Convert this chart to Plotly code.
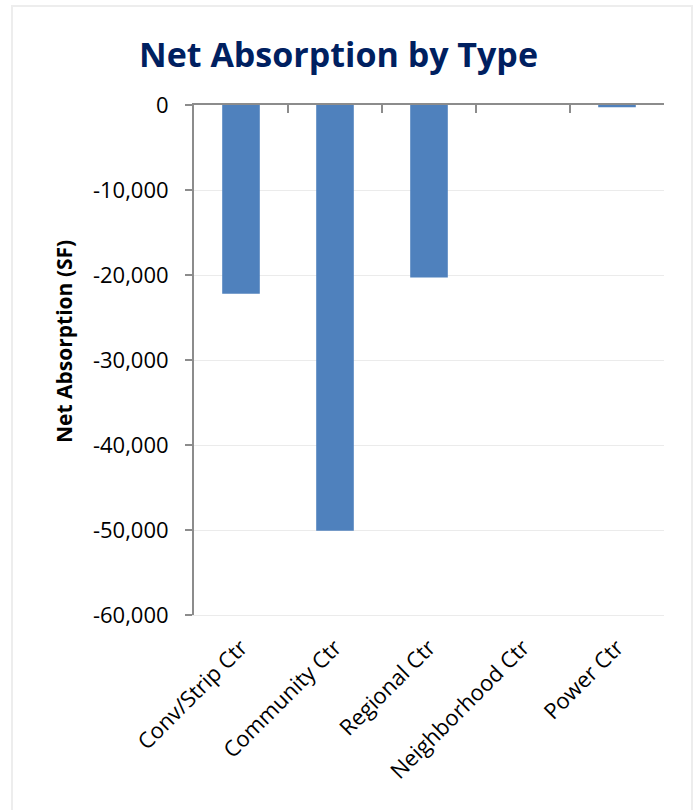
import plotly.graph_objects as go

# Net absorption (square feet) by shopping-center type
categories = ["Conv/Strip Ctr", "Community Ctr", "Regional Ctr", "Neighborhood Ctr", "Power Ctr"]
net_absorption = [-22200, -50100, -20300, 0, -250]
y_ticks = [0, -10000, -20000, -30000, -40000, -50000, -60000]
y_tick_labels = ["0", "-10,000", "-20,000", "-30,000", "-40,000", "-50,000", "-60,000"]

BAR_COLOR = "#4F81BD"
AXIS_GRAY = "#8C8C8C"
GRID_GRAY = "#EBEBEB"
FONT = "Open Sans"

# plot-area geometry in pixels
W, H = 698, 810
L, R, T, B = 194, 34, 105, 195
PW, PH = W - L - R, H - T - B


def px_x(px):
    return (px - L) / PW


def px_y(py):
    return 1 - (py - T) / PH


fig = go.Figure()

fig.add_trace(go.Bar(
    x=categories,
    y=net_absorption,
    marker=dict(color=BAR_COLOR, line=dict(width=0)),
    width=0.4,
    xaxis="x",
    yaxis="y",
    hoverinfo="x+y",
))

# carrier trace for the top category axis (ticks at the category boundaries)
fig.add_trace(go.Scatter(
    x=categories,
    y=net_absorption,
    mode="markers",
    marker=dict(opacity=0),
    xaxis="x2",
    yaxis="y",
    hoverinfo="skip",
    showlegend=False,
))

fig.update_layout(
    width=W,
    height=H,
    margin=dict(l=L, r=R, t=T, b=B),
    paper_bgcolor="white",
    plot_bgcolor="white",
    showlegend=False,
    bargap=0.6,
    title=dict(
        text="<b>Net Absorption by Type</b>",
        font=dict(family=FONT, size=34, color="#002060"),
        x=0.485,
        xanchor="center",
        y=0.932,
        yanchor="middle",
    ),
    xaxis=dict(
        type="category",
        categoryorder="array",
        categoryarray=categories,
        range=[-0.5, 4.5],
        tickangle=-45,
        showline=True,
        linecolor=GRID_GRAY,
        linewidth=1,
        ticks="",
        ticklabelstandoff=10,
        showgrid=False,
        zeroline=False,
        tickfont=dict(family=FONT, size=22, color="black"),
    ),
    xaxis2=dict(
        type="category",
        categoryorder="array",
        categoryarray=categories,
        range=[-0.5, 4.5],
        overlaying="x",
        side="top",
        showline=True,
        linecolor=AXIS_GRAY,
        linewidth=2,
        ticks="inside",
        tickson="boundaries",
        ticklen=8,
        tickwidth=2,
        tickcolor=AXIS_GRAY,
        showticklabels=False,
        showgrid=False,
        zeroline=False,
    ),
    yaxis=dict(
        range=[-60000, 0],
        tickvals=y_ticks,
        ticktext=y_tick_labels,
        ticks="outside",
        ticklen=7,
        tickwidth=2,
        tickcolor=AXIS_GRAY,
        ticklabelstandoff=12,
        showline=True,
        linecolor=AXIS_GRAY,
        linewidth=2,
        showgrid=True,
        gridcolor=GRID_GRAY,
        gridwidth=1,
        zeroline=False,
        tickfont=dict(family=FONT, size=22, color="black"),
    ),
    annotations=[
        dict(
            text="<b>Net Absorption (SF)</b>",
            textangle=-90,
            xref="paper", yref="paper",
            x=px_x(64), y=px_y(342),
            xanchor="center", yanchor="middle",
            showarrow=False,
            font=dict(family=FONT, size=21, color="black"),
        )
    ],
    shapes=[
        dict(
            type="rect",
            xref="paper", yref="paper",
            x0=px_x(12), x1=px_x(692),
            y0=px_y(830), y1=px_y(6),
            line=dict(color="#EDEDED", width=2),
            fillcolor="rgba(0,0,0,0)",
            layer="below",
        )
    ],
)

fig.write_html("out.html")
